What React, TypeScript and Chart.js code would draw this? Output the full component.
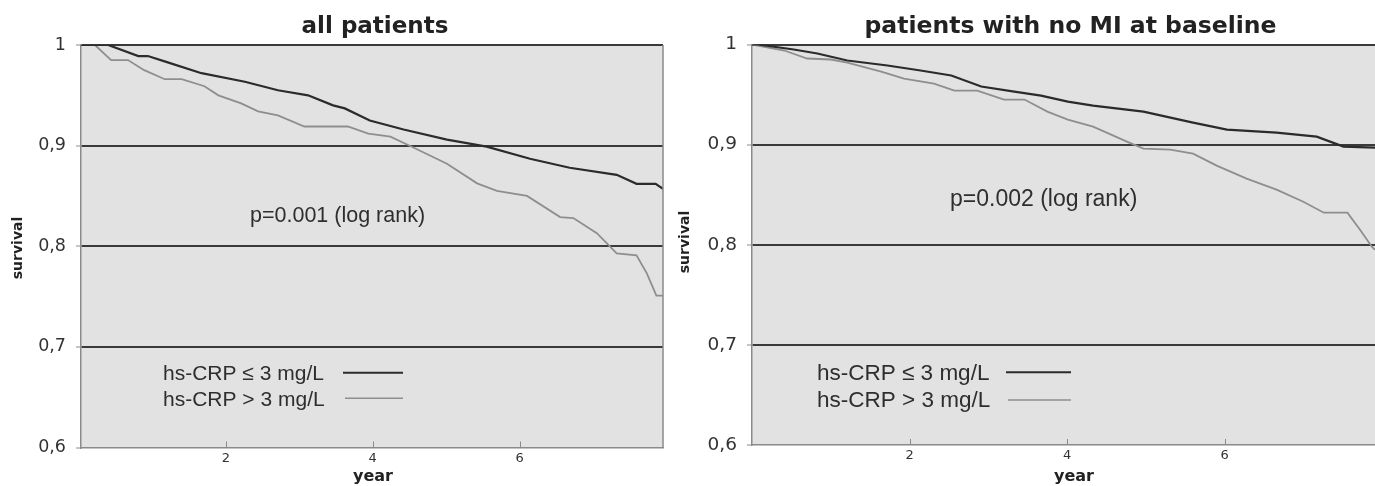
import React, { useEffect, useRef } from "react";
import { Chart, registerables } from "chart.js";

Chart.register(...registerables);

// ---------- data ----------
const Y_TICKS = [0.6, 0.7, 0.8, 0.9, 1];
const Y_TICK_LABELS = ["0,6", "0,7", "0,8", "0,9", "1"];
const X_TICKS = [2, 4, 6];
const LEGEND_LABELS = ["hs-CRP ≤ 3 mg/L", "hs-CRP > 3 mg/L"];
const PANEL_TITLES = ["all patients", "patients with no MI at baseline"];
const P_VALUES = ["p=0.001 (log rank)", "p=0.002 (log rank)"];
const X_TITLE = "year";
const Y_TITLE = "survival";

// all patients, hs-CRP <= 3 mg/L
const allLowYears = [0, 0.4, 0.81, 0.94, 1.2, 1.67, 2.26, 2.71, 3.12, 3.46, 3.62, 3.96, 4.42, 5.01, 5.55, 6.14, 6.68, 7.32, 7.59, 7.85, 7.95];
const allLowSurv = [1, 1, 0.989, 0.989, 0.983, 0.972, 0.9635, 0.955, 0.95, 0.94, 0.937, 0.925, 0.916, 0.906, 0.899, 0.887, 0.878, 0.871, 0.862, 0.862, 0.857];

// all patients, hs-CRP > 3 mg/L
const allHighYears = [0, 0.22, 0.44, 0.67, 0.89, 1.17, 1.4, 1.71, 1.9, 2.21, 2.44, 2.71, 3.07, 3.66, 3.94, 4.24, 4.51, 5.01, 5.42, 5.69, 6.1, 6.55, 6.73, 7.05, 7.32, 7.59, 7.73, 7.86, 7.95];
const allHighSurv = [1, 1, 0.985, 0.985, 0.975, 0.966, 0.966, 0.959, 0.95, 0.942, 0.934, 0.93, 0.919, 0.919, 0.912, 0.909, 0.8996, 0.882, 0.8625, 0.855, 0.85, 0.829, 0.828, 0.813, 0.793, 0.791, 0.773, 0.751, 0.751];

// no MI at baseline, hs-CRP <= 3 mg/L
const noMiLowYears = [0, 0.07, 0.53, 0.83, 1.21, 1.72, 2.14, 2.53, 2.91, 3.33, 3.67, 4.01, 4.33, 4.97, 5.6, 6.03, 6.66, 7.17, 7.51, 7.91];
const noMiLowSurv = [1, 1, 0.995, 0.991, 0.984, 0.979, 0.974, 0.969, 0.958, 0.953, 0.949, 0.943, 0.939, 0.933, 0.922, 0.915, 0.912, 0.908, 0.898, 0.897];

// no MI at baseline, hs-CRP > 3 mg/L
const noMiHighYears = [0, 0.41, 0.7, 1.0, 1.21, 1.64, 1.93, 2.31, 2.57, 2.86, 3.2, 3.46, 3.75, 4.01, 4.33, 4.76, 4.97, 5.31, 5.6, 5.9, 6.28, 6.66, 7.0, 7.26, 7.56, 7.72, 7.87, 7.91];
const noMiHighSurv = [1, 0.994, 0.986, 0.985, 0.982, 0.973, 0.966, 0.961, 0.954, 0.954, 0.945, 0.945, 0.933, 0.925, 0.918, 0.903, 0.896, 0.895, 0.891, 0.879, 0.866, 0.855, 0.843, 0.832, 0.832, 0.815, 0.798, 0.795];

// ---------- styles ----------
const BG = "#e2e2e2";
const GRID = "#3a3a3a";
const AXIS = "#8a8a8a";
const DARK_LINE = "#2b2b2b";
const LIGHT_LINE = "#8e8e8e";
const TEXT = "#2e2e2e";

type Spec = {
  canvasLeft: number;
  width: number;
  plotLeft: number;
  plotRight: number;
  plotTop: number;
  plotBottom: number;
  xMin: number;
  xMax: number;
  title: string;
  titleX: number;
  titleSize: number;
  pText: string;
  pX: number;
  pY: number;
  pSize: number;
  legendX: number;
  legendY: number[];
  legendSize: number;
  legendLines: number[][]; // [x1, x2, y]
  yTitleX: number;
  yTitleY: number;
  yearX: number;
  yTickSize: number;
  rightBorder: boolean;
  low: { x: number[]; y: number[] };
  high: { x: number[]; y: number[] };
};

const SPECS: Spec[] = [
  {
    canvasLeft: 0,
    width: 670,
    plotLeft: 81,
    plotRight: 663,
    plotTop: 45,
    plotBottom: 447.5,
    xMin: 0.03,
    xMax: 7.95,
    title: PANEL_TITLES[0],
    titleX: 375,
    titleSize: 23,
    pText: P_VALUES[0],
    pX: 250,
    pY: 222,
    pSize: 21.5,
    legendX: 163,
    legendY: [380, 406],
    legendSize: 21,
    legendLines: [
      [343, 403, 372.7],
      [345, 403, 398.3],
    ],
    yTitleX: 18,
    yTitleY: 248,
    yearX: 373,
    yTickSize: 17.5,
    rightBorder: true,
    low: { x: allLowYears, y: allLowSurv },
    high: { x: allHighYears, y: allHighSurv },
  },
  {
    canvasLeft: 670,
    width: 705,
    plotLeft: 82,
    plotRight: 705,
    plotTop: 44.5,
    plotBottom: 445,
    xMin: 0,
    xMax: 7.91,
    title: PANEL_TITLES[1],
    titleX: 400.5,
    titleSize: 23.5,
    pText: P_VALUES[1],
    pX: 280,
    pY: 206,
    pSize: 23,
    legendX: 147,
    legendY: [380, 407],
    legendSize: 22.5,
    legendLines: [
      [336, 401, 372.3],
      [338, 401, 400],
    ],
    yTitleX: 15,
    yTitleY: 242,
    yearX: 404,
    yTickSize: 18.5,
    rightBorder: false,
    low: { x: noMiLowYears, y: noMiLowSurv },
    high: { x: noMiHighYears, y: noMiHighSurv },
  },
];

const HEIGHT = 486;

function Panel({ spec }: { spec: Spec }) {
  const ref = useRef<HTMLCanvasElement | null>(null);

  useEffect(() => {
    const canvas = ref.current;
    if (!canvas) return;

    const deco = {
      id: "deco",
      beforeDraw(chart: any) {
        const { ctx, chartArea: a, width, height } = chart;
        ctx.save();
        ctx.fillStyle = "#ffffff";
        ctx.fillRect(0, 0, width, height);
        ctx.fillStyle = BG;
        ctx.fillRect(a.left, a.top, a.right - a.left, a.bottom - a.top);
        ctx.restore();
      },
      afterDraw(chart: any) {
        const { ctx, chartArea: a } = chart;
        const xs = chart.scales.x;
        ctx.save();
        if (spec.rightBorder) {
          ctx.strokeStyle = AXIS;
          ctx.lineWidth = 1.5;
          ctx.beginPath();
          ctx.moveTo(a.right, a.top);
          ctx.lineTo(a.right, a.bottom);
          ctx.stroke();
        }
        ctx.strokeStyle = AXIS;
        ctx.lineWidth = 1;
        X_TICKS.forEach((v) => {
          const px = Math.round(xs.getPixelForValue(v)) + 0.5;
          ctx.beginPath();
          ctx.moveTo(px, a.bottom - 6);
          ctx.lineTo(px, a.bottom);
          ctx.stroke();
        });
        ctx.fillStyle = "#222";
        ctx.textAlign = "center";
        ctx.textBaseline = "alphabetic";
        ctx.font = `bold ${spec.titleSize}px "DejaVu Sans", Verdana, sans-serif`;
        ctx.fillText(spec.title, spec.titleX, 32.5);
        ctx.font = `bold 16px "DejaVu Sans", Verdana, sans-serif`;
        ctx.fillText(X_TITLE, spec.yearX, 481);
        ctx.save();
        ctx.translate(spec.yTitleX, spec.yTitleY);
        ctx.rotate(-Math.PI / 2);
        ctx.textBaseline = "middle";
        ctx.font = `bold 14px "DejaVu Sans", Verdana, sans-serif`;
        ctx.fillText(Y_TITLE, 0, 0);
        ctx.restore();
        ctx.fillStyle = TEXT;
        ctx.textAlign = "left";
        ctx.textBaseline = "alphabetic";
        ctx.font = `${spec.pSize}px "Liberation Sans", Arial, sans-serif`;
        ctx.fillText(spec.pText, spec.pX, spec.pY);
        ctx.font = `${spec.legendSize}px "Liberation Sans", Arial, sans-serif`;
        LEGEND_LABELS.forEach((lbl, i) => {
          ctx.fillStyle = TEXT;
          ctx.fillText(lbl, spec.legendX, spec.legendY[i]);
          const [x1, x2, y] = spec.legendLines[i];
          ctx.strokeStyle = i === 0 ? DARK_LINE : LIGHT_LINE;
          ctx.lineWidth = i === 0 ? 2 : 1.5;
          ctx.beginPath();
          ctx.moveTo(x1, y);
          ctx.lineTo(x2, y);
          ctx.stroke();
        });
        ctx.restore();
      },
    };

    const toPts = (s: { x: number[]; y: number[] }) => s.x.map((x, i) => ({ x, y: s.y[i] }));

    const chart = new Chart(canvas, {
      type: "line",
      data: {
        datasets: [
          {
            label: LEGEND_LABELS[0],
            data: toPts(spec.low),
            borderColor: DARK_LINE,
            borderWidth: 2.2,
            pointRadius: 0,
            tension: 0,
            fill: false,
          },
          {
            label: LEGEND_LABELS[1],
            data: toPts(spec.high),
            borderColor: LIGHT_LINE,
            borderWidth: 1.8,
            pointRadius: 0,
            tension: 0,
            fill: false,
          },
        ],
      },
      options: {
        responsive: false,
        maintainAspectRatio: false,
        animation: false,
        devicePixelRatio: 1,
        layout: {
          padding: {
            top: spec.plotTop,
            right: spec.width - spec.plotRight,
            left: 0,
            bottom: 0,
          },
        },
        plugins: {
          legend: { display: false },
          tooltip: { enabled: false },
          title: { display: false },
        },
        scales: {
          x: {
            type: "linear",
            min: spec.xMin,
            max: spec.xMax,
            afterBuildTicks: (s: any) => {
              s.ticks = X_TICKS.map((v) => ({ value: v }));
            },
            afterFit: (s: any) => {
              s.height = HEIGHT - spec.plotBottom;
            },
            ticks: {
              color: "#333",
              font: { family: '"DejaVu Sans", Verdana, sans-serif', size: 13 },
              padding: 3,
              maxRotation: 0,
              autoSkip: false,
              callback: (v: any) => String(v),
            },
            grid: { display: false, drawTicks: false },
            border: { display: true, color: AXIS, width: 1.5 },
          },
          y: {
            type: "linear",
            min: 0.6,
            max: 1,
            afterBuildTicks: (s: any) => {
              s.ticks = Y_TICKS.map((v) => ({ value: v }));
            },
            afterFit: (s: any) => {
              s.width = spec.plotLeft;
            },
            ticks: {
              color: "#333",
              font: { family: '"DejaVu Sans", Verdana, sans-serif', size: spec.yTickSize },
              padding: 10,
              autoSkip: false,
              callback: (v: any) => {
                const i = Y_TICKS.findIndex((t) => Math.abs(t - v) < 1e-6);
                return i >= 0 ? Y_TICK_LABELS[i] : "";
              },
            },
            grid: {
              display: true,
              drawTicks: true,
              tickLength: 5,
              lineWidth: 2,
              color: (c: any) => (c.tick && Math.abs(c.tick.value - 0.6) < 1e-6 ? "rgba(0,0,0,0)" : GRID),
              tickColor: AXIS,
              tickWidth: 1,
            },
            border: { display: true, color: AXIS, width: 1.5 },
          },
        },
      },
      plugins: [deco],
    } as any);

    return () => chart.destroy();
  }, [spec]);

  return (
    <canvas
      ref={ref}
      width={spec.width}
      height={HEIGHT}
      style={{ position: "absolute", left: spec.canvasLeft, top: 0, width: spec.width, height: HEIGHT }}
    />
  );
}

export default function App() {
  return (
    <div
      style={{
        position: "fixed",
        left: 0,
        top: 0,
        width: 1375,
        height: HEIGHT,
        overflow: "hidden",
        background: "#ffffff",
      }}
    >
      {SPECS.map((s, i) => (
        <Panel key={i} spec={s} />
      ))}
    </div>
  );
}
